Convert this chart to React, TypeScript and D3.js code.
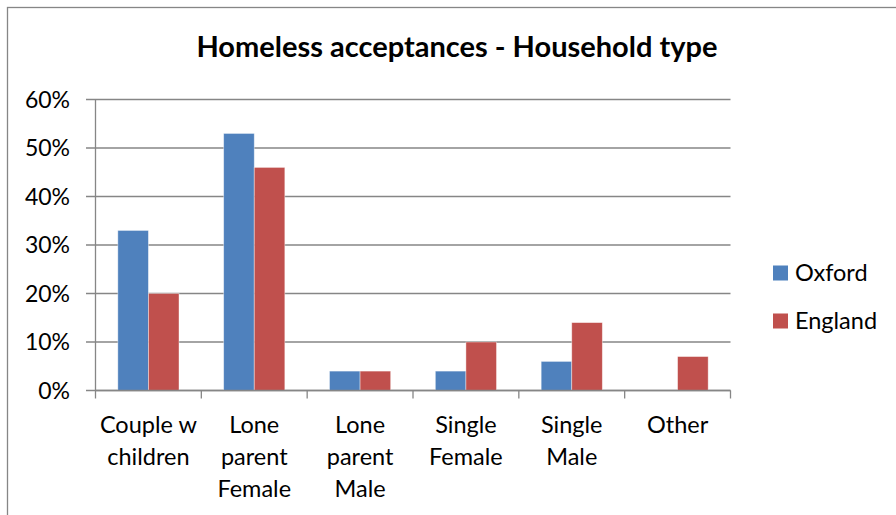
import React from "react";
import * as d3 from "d3";

const categories: string[][] = [
  ["Couple w", "children"],
  ["Lone", "parent", "Female"],
  ["Lone", "parent", "Male"],
  ["Single", "Female"],
  ["Single", "Male"],
  ["Other"],
];
const seriesNames = ["Oxford", "England"];
const oxford = [33, 53, 4, 4, 6, 0];
const england = [20, 46, 4, 10, 14, 7];
const yTicks = [0, 10, 20, 30, 40, 50, 60];
const colors = ["#4F81BD", "#C0504D"];

const W = 896;
const H = 515;
const FONT = "Lato, 'Open Sans', sans-serif";

export default function App() {
  const left = 95.5;
  const right = 730.5;
  const top = 99.5;
  const bottom = 390.5;
  const x = d3
    .scaleBand<number>()
    .domain(categories.map((_, i) => i))
    .range([left, right])
    .paddingInner(0)
    .paddingOuter(0);
  const inner = d3
    .scaleBand<number>()
    .domain([0, 1])
    .range([0, x.bandwidth()])
    .paddingInner(0)
    .paddingOuter(0.73);
  const y = d3.scaleLinear().domain([0, 60]).range([bottom, top]);
  const series = [oxford, england];

  return (
    <svg
      width={W}
      height={H}
      style={{ position: "absolute", left: 0, top: 0, background: "#fff" }}
    >
      <rect x={7.5} y={7.5} width={W + 10} height={H + 10} fill="#fff" stroke="#868686" strokeWidth={1.3} />
      <text
        x={457}
        y={57}
        textAnchor="middle"
        fontFamily={FONT}
        fontWeight="bold"
        fontSize={29}
        fill="#000"
      >
        Homeless acceptances - Household type
      </text>
      {yTicks.map((t) => (
        <g key={t}>
          <line x1={86} x2={right} y1={y(t)} y2={y(t)} stroke="#868686" strokeWidth={1.3} />
          <text
            x={70}
            y={y(t) + 8}
            textAnchor="end"
            fontFamily={FONT}
            fontSize={23}
            fill="#000"
          >
            {t}%
          </text>
        </g>
      ))}
      {series.map((vals, si) =>
        vals.map((v, ci) =>
          v > 0 ? (
            <rect
              key={`${si}-${ci}`}
              x={(x(ci) as number) + (inner(si) as number)}
              y={y(v)}
              width={inner.bandwidth()}
              height={y(0) - y(v)}
              fill={colors[si]}
              stroke="#ffffff"
              strokeOpacity={0.5}
              strokeWidth={0.8}
            />
          ) : null
        )
      )}
      <line x1={left} x2={left} y1={top} y2={bottom} stroke="#868686" strokeWidth={1.3} />
      <line x1={left} x2={right} y1={bottom} y2={bottom} stroke="#868686" strokeWidth={1.3} />
      {d3.range(categories.length + 1).map((i) => {
        const xx = left + i * x.bandwidth();
        return (
          <line key={i} x1={xx} x2={xx} y1={bottom} y2={bottom + 8} stroke="#868686" strokeWidth={1.3} />
        );
      })}
      {categories.map((lines, ci) => (
        <text
          key={ci}
          x={(x(ci) as number) + x.bandwidth() / 2}
          textAnchor="middle"
          fontFamily={FONT}
          fontSize={23.5}
          fill="#000"
        >
          {lines.map((l, li) => (
            <tspan key={li} x={(x(ci) as number) + x.bandwidth() / 2} y={433 + li * 32}>
              {l}
            </tspan>
          ))}
        </text>
      ))}
      {seriesNames.map((n, si) => (
        <g key={n}>
          <rect x={773} y={265.5 + si * 48} width={15} height={15} fill={colors[si]} />
          <text x={795} y={281 + si * 48} fontFamily={FONT} fontSize={23.5} fill="#000">
            {n}
          </text>
        </g>
      ))}
    </svg>
  );
}
